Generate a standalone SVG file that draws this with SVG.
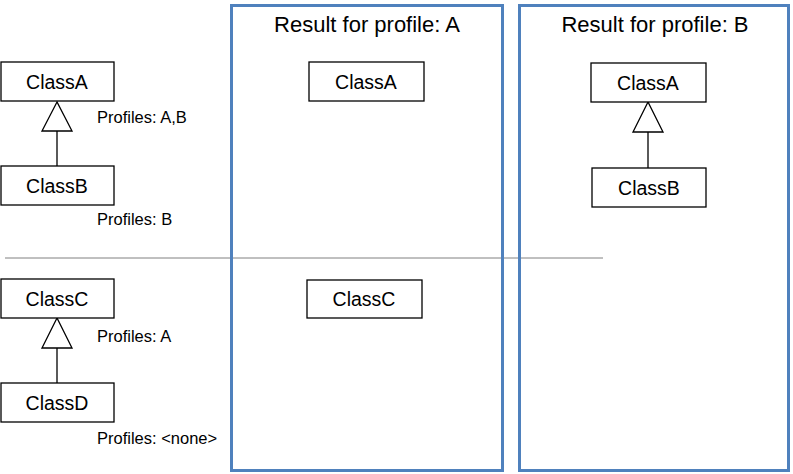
<svg xmlns="http://www.w3.org/2000/svg" width="793" height="474" viewBox="0 0 793 474">
<style>
  .box{fill:#fff;stroke:#000;stroke-width:1.3}
  .panel{fill:none;stroke:#4F81BD;stroke-width:3}
  .cls{font-family:"Liberation Sans",Arial,sans-serif;font-size:19.5px;fill:#000;text-anchor:middle}
  .title{font-family:"Liberation Sans",Arial,sans-serif;font-size:22px;fill:#000;text-anchor:middle}
  .prof{font-family:"Liberation Sans",Arial,sans-serif;font-size:16.5px;fill:#000}
  .line{stroke:#000;stroke-width:1.3;fill:none}
  .tri{fill:#fff;stroke:#000;stroke-width:1.3}
</style>
<rect width="793" height="474" fill="#fff"/>
<g id="separator"><line x1="5" y1="258" x2="603" y2="258" stroke="#808080" stroke-width="1"/></g>
<g id="panelA"><rect class="panel" x="231.5" y="5.5" width="271" height="465"/><text class="title" x="367" y="32">Result for profile: A</text></g>
<g id="panelB"><rect class="panel" x="519.5" y="5.5" width="269" height="465"/><text class="title" x="655" y="32">Result for profile: B</text></g>
<g id="connectors">
  <line class="line" x1="57" y1="131" x2="57" y2="166"/>
  <polygon class="tri" points="57,102 42,131 72,131"/>
  <line class="line" x1="57" y1="348" x2="57" y2="383"/>
  <polygon class="tri" points="57,318 42,348 72,348"/>
  <line class="line" x1="648" y1="132" x2="648" y2="168"/>
  <polygon class="tri" points="648,102 633,132 663,132"/>
</g>
<g id="classA"><rect class="box" x="1" y="62" width="113" height="39"/><text class="cls" x="57" y="89">ClassA</text></g>
<g id="classB"><rect class="box" x="1" y="166" width="113" height="39"/><text class="cls" x="57" y="193">ClassB</text></g>
<g id="classC"><rect class="box" x="1" y="279" width="113" height="39"/><text class="cls" x="57" y="306">ClassC</text></g>
<g id="classD"><rect class="box" x="1" y="383" width="113" height="39"/><text class="cls" x="57" y="410">ClassD</text></g>
<g id="labels">
  <text class="prof" x="97" y="123">Profiles: A,B</text>
  <text class="prof" x="97" y="225">Profiles: B</text>
  <text class="prof" x="97" y="342">Profiles: A</text>
  <text class="prof" x="97" y="444">Profiles: &lt;none&gt;</text>
</g>
<g id="resA_classA"><rect class="box" x="309" y="62" width="115" height="39"/><text class="cls" x="366" y="89">ClassA</text></g>
<g id="resA_classC"><rect class="box" x="307" y="280" width="115" height="38"/><text class="cls" x="364" y="306">ClassC</text></g>
<g id="resB_classA"><rect class="box" x="591" y="63" width="115" height="39"/><text class="cls" x="648" y="90">ClassA</text></g>
<g id="resB_classB"><rect class="box" x="592" y="168" width="114" height="39"/><text class="cls" x="649" y="195">ClassB</text></g>
</svg>
